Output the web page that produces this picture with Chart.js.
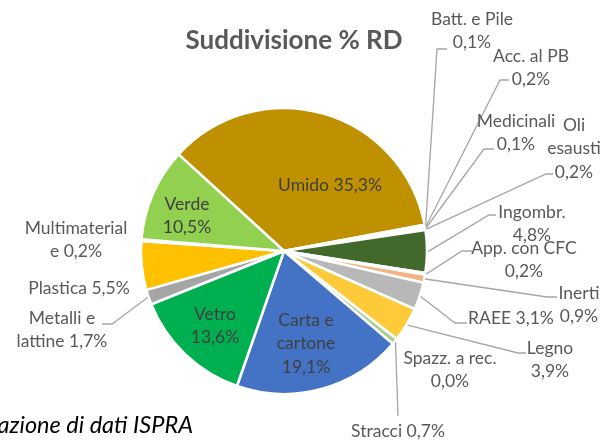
<!DOCTYPE html>
<html>
<head>
<meta charset="utf-8">
<style>
  html, body { margin: 0; padding: 0; background: #fff; }
  #wrap { position: relative; width: 615px; height: 441px; overflow: hidden; }
</style>
<script src="https://cdn.jsdelivr.net/npm/chart.js@4.4.1/dist/chart.umd.min.js"></script>
</head>
<body>
<div id="wrap"><canvas id="rdChart" width="615" height="441"></canvas></div>
<script>
  // slices, clockwise starting from Umido
  const categories = ['Umido', 'Batt. e Pile', 'Acc. al PB', 'Medicinali', 'Oli esausti', 'Ingombr.',
    'App. con CFC', 'Inerti', 'RAEE', 'Legno', 'Spazz. a rec.', 'Stracci', 'Carta e cartone',
    'Vetro', 'Metalli e lattine', 'Plastica', 'Multimateriale', 'Verde'];
  const values = [35.3, 0.1, 0.2, 0.1, 0.2, 4.8, 0.2, 0.9, 3.1, 3.9, 0.0, 0.7, 19.1, 13.6, 1.7, 5.5, 0.2, 10.5];
  // how each label breaks into lines, {v} = value
  const labelText = ['Umido {v}', 'Batt. e Pile\n{v}', 'Acc. al PB\n{v}', 'Medicinali\n{v}', 'Oli\nesausti\n{v}',
    'Ingombr.\n{v}', 'App. con CFC\n{v}', 'Inerti\n{v}', 'RAEE {v}', 'Legno\n{v}', 'Spazz. a rec.\n{v}',
    'Stracci {v}', 'Carta e\ncartone\n{v}', 'Vetro\n{v}', 'Metalli e\nlattine {v}', 'Plastica {v}',
    'Multimaterial\ne {v}', 'Verde\n{v}'];

  const colors = ['#BF9000', '#7F6000', '#C55A11', '#2F5597', '#997300', '#43682B', '#264478', '#F4B183',
    '#B8B8B8', '#FFCA3A', '#9DC3E6', '#A9D18E', '#4472C4', '#00B050', '#A5A5A5', '#FFC000', '#5B9BD5', '#92D050'];

  // label placement: text centre x, first line y, leader [elbowX, elbowY, endX]
  const labelPos = [
    { x: 330, y: 185, inside: true },
    { x: 472, y: 19, leader: [437, 49, 447] },
    { x: 531, y: 56, leader: [500, 80, 509] },
    { x: 516, y: 121, leader: [484, 149, 494] },
    { x: 574, y: 125, leader: [546, 174, 553] },
    { x: 532, y: 212, leader: [489, 215, 496] },
    { x: 524, y: 248, leader: [462, 251, 472] },
    { x: 579, y: 293, leader: [547, 297, 557] },
    { x: 511, y: 318, leader: [455, 323, 467] },
    { x: 550, y: 348, leader: [518, 353, 526] },
    { x: 450, y: 358 },
    { x: 398, y: 431, leader: [398, 416, 398] },
    { x: 306, y: 320, inside: true },
    { x: 215, y: 314, inside: true },
    { x: 62, y: 318, leader: [112, 324, 102] },
    { x: 79, y: 288 },
    { x: 76, y: 228 },
    { x: 187, y: 204, inside: true }
  ];

  const fmt = v => v.toFixed(1).replace('.', ',') + '%';
  const lineH = 23.5;

  const labelPlugin = {
    id: 'sliceLabels',
    afterDatasetsDraw(chart) {
      const ctx = chart.ctx;
      const meta = chart.getDatasetMeta(0);
      ctx.save();
      ctx.strokeStyle = '#A6A6A6';
      ctx.lineWidth = 1.3;
      meta.data.forEach((arc, i) => {
        const lay = labelPos[i];
        if (!lay.leader) return;
        const mid = (arc.startAngle + arc.endAngle) / 2;
        const r = arc.outerRadius + 1;
        ctx.beginPath();
        ctx.moveTo(arc.x + Math.cos(mid) * r, arc.y + Math.sin(mid) * r);
        ctx.lineTo(lay.leader[0], lay.leader[1]);
        ctx.lineTo(lay.leader[2], lay.leader[1]);
        ctx.stroke();
      });
      ctx.textAlign = 'center';
      ctx.textBaseline = 'middle';
      ctx.font = '17.5px Lato';
      categories.forEach((c, i) => {
        const lay = labelPos[i];
        ctx.fillStyle = lay.inside ? '#404040' : '#595959';
        const lines = labelText[i].replace('{v}', fmt(values[i])).split('\n');
        lines.forEach((t, k) => ctx.fillText(t, lay.x, lay.y + k * lineH));
      });
      // title
      ctx.fillStyle = '#595959';
      ctx.font = 'bold 26px Lato';
      ctx.fillText('Suddivisione % RD', 294, 41);
      // source note, cut at the left edge
      ctx.fillStyle = '#000';
      ctx.font = 'italic 23.5px Lato';
      ctx.textAlign = 'right';
      ctx.fillText('Elaborazione di dati ISPRA', 193, 425);
      ctx.restore();
    }
  };

  new Chart(document.getElementById('rdChart'), {
    type: 'pie',
    data: {
      labels: categories,
      datasets: [{
        data: values,
        backgroundColor: colors,
        borderColor: '#FFFFFF',
        borderWidth: 2.5,
        radius: 143,
      }],
    },
    options: {
      responsive: false,
      animation: false,
      rotation: -47.5,
      layout: { padding: { left: 142, right: 189, top: 109, bottom: 48 } },
      plugins: { legend: { display: false }, title: { display: false }, tooltip: { enabled: false } },
    },
    plugins: [labelPlugin],
  });
</script>
</body>
</html>
